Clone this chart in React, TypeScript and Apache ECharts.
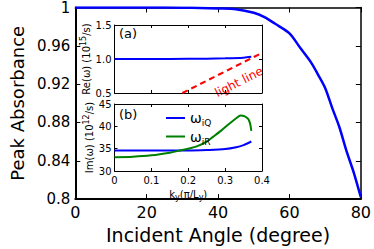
import React, { useEffect, useRef } from "react";
import * as echarts from "echarts";

// Main panel: peak absorbance vs incident angle
const angles = [0, 10, 20, 30, 35, 40, 45, 50, 53, 56, 60, 63, 66, 68, 70, 72, 74, 76, 78, 80];
const absorbance = [1.0, 1.0, 1.0, 0.9998, 0.9995, 0.999, 0.9982, 0.9945, 0.99, 0.983, 0.973, 0.958, 0.943, 0.93, 0.916, 0.895, 0.875, 0.85, 0.828, 0.802];

// Inset (a): real part of frequency vs ky
const kyA = [0, 0.1, 0.2, 0.25, 0.3, 0.35, 0.371];
const reOmega = [1.0, 1.0, 1.003, 1.005, 1.01, 1.02, 1.032];
const lightKy = [0.184, 0.4];
const lightRe = [0.5, 1.09];

// Inset (b): imaginary parts vs ky
const kyQ = [0, 0.1, 0.2, 0.25, 0.3, 0.33, 0.35, 0.371];
const imQ = [34.6, 34.6, 34.6, 34.7, 34.9, 35.3, 35.8, 36.6];
const kyR = [0, 0.05, 0.1, 0.15, 0.178, 0.2, 0.223, 0.25, 0.268, 0.29, 0.313, 0.33, 0.342, 0.352, 0.363, 0.368, 0.371];
const imR = [33.1, 33.2, 33.5, 34.1, 34.6, 35.0, 35.5, 36.6, 37.7, 39.1, 40.7, 41.8, 42.4, 42.3, 41.6, 40.5, 39.0];

const mainXTicks = [0, 20, 40, 60, 80];
const mainYTicks = [0.8, 0.84, 0.88, 0.92, 0.96, 1];

const FONT = "DejaVu Sans";

const zip = (xs: number[], ys: number[]) => xs.map((x, i) => [x, ys[i]]);

export default function App() {
  const ref = useRef<HTMLDivElement>(null);
  useEffect(() => {
    if (!ref.current) return;
    const chart = echarts.init(ref.current, undefined, { renderer: "svg" });
    const black = "#000";
    const frameAxis = (extra: any) => ({
      axisLine: { show: true, onZero: false, lineStyle: { color: black, width: extra.lw ?? 1 } },
      axisTick: { show: true, inside: true, length: extra.tl ?? 3, lineStyle: { color: black, width: 1 } },
      splitLine: { show: false },
    });
    const mainTickStyle = { fontFamily: FONT, color: black };

    chart.setOption({
      animation: false,
      backgroundColor: "#fff",
      textStyle: { fontFamily: FONT },
      grid: [
        { left: 67, top: 7, width: 298, height: 200, show: false },
        { left: 114.5, top: 25, width: 147.5, height: 68, show: true, backgroundColor: "#fff", borderWidth: 0 },
        { left: 114.5, top: 104, width: 147.5, height: 67, show: true, backgroundColor: "#fff", borderWidth: 0 },
      ],
      xAxis: [
        {
          type: "value", gridIndex: 0, position: "bottom", min: mainXTicks[0], max: mainXTicks[mainXTicks.length - 1], interval: 20,
          ...frameAxis({ lw: 2, tl: 5 }),
          axisLabel: { ...mainTickStyle, fontSize: 16, margin: 5 },
          name: "Incident Angle (degree)", nameLocation: "middle", nameGap: 21,
          nameTextStyle: { fontFamily: FONT, fontSize: 19, color: black },
        },
        {
          type: "value", gridIndex: 0, position: "top", min: 0, max: 80, interval: 20,
          ...frameAxis({ lw: 1.5, tl: 5 }), axisLabel: { show: false },
        },
        {
          type: "value", gridIndex: 1, position: "bottom", min: 0, max: 0.4, interval: 0.1,
          ...frameAxis({}), axisLabel: { show: false },
        },
        {
          type: "value", gridIndex: 1, position: "top", min: 0, max: 0.4, interval: 0.1,
          ...frameAxis({}), axisLabel: { show: false },
        },
        {
          type: "value", gridIndex: 2, position: "bottom", min: 0, max: 0.4, interval: 0.1,
          ...frameAxis({}),
          axisLabel: { fontFamily: FONT, fontSize: 10, color: black, margin: 4, formatter: (v: number) => (v === 0 ? "0" : v.toFixed(1)) },
          name: "k{s|y}(π/L{s|y})", nameLocation: "middle", nameGap: 16,
          nameTextStyle: {
            fontFamily: FONT, fontSize: 10, color: black,
            rich: { s: { fontFamily: FONT, fontSize: 8, color: black, padding: [6, 0, 0, 0] } },
          },
        },
        {
          type: "value", gridIndex: 2, position: "top", min: 0, max: 0.4, interval: 0.1,
          ...frameAxis({}), axisLabel: { show: false },
        },
      ],
      yAxis: [
        {
          type: "value", gridIndex: 0, position: "left", min: mainYTicks[0], max: mainYTicks[mainYTicks.length - 1], interval: 0.04,
          ...frameAxis({ lw: 2, tl: 5 }),
          axisLabel: { ...mainTickStyle, fontSize: 15, margin: 5, formatter: (v: number) => String(+v.toFixed(2)) },
          name: "Peak Absorbance", nameLocation: "middle", nameGap: 42,
          nameTextStyle: { fontFamily: FONT, fontSize: 18, color: black },
        },
        {
          type: "value", gridIndex: 0, position: "right", min: 0.8, max: 1, interval: 0.04,
          ...frameAxis({ lw: 1.5, tl: 5 }), axisLabel: { show: false },
        },
        {
          type: "value", gridIndex: 1, position: "left", min: 0.5, max: 1.5, interval: 0.5,
          ...frameAxis({}),
          axisLabel: { fontFamily: FONT, fontSize: 10, color: black, margin: 3, formatter: (v: number) => v.toFixed(1) },
          name: "Re(ω) (10{p|15}/s)", nameLocation: "middle", nameGap: 18,
          nameTextStyle: {
            fontFamily: FONT, fontSize: 10, color: black,
            rich: { p: { fontFamily: FONT, fontSize: 8, color: black, padding: [0, 0, 6, 0] } },
          },
        },
        {
          type: "value", gridIndex: 1, position: "right", min: 0.5, max: 1.5, interval: 0.5,
          ...frameAxis({}), axisLabel: { show: false },
        },
        {
          type: "value", gridIndex: 2, position: "left", min: 30, max: 45, interval: 5,
          ...frameAxis({}),
          axisLabel: { fontFamily: FONT, fontSize: 10, color: black, margin: 3 },
          name: "Im(ω) (10{p|12}/s)", nameLocation: "middle", nameGap: 16,
          nameTextStyle: {
            fontFamily: FONT, fontSize: 10, color: black,
            rich: { p: { fontFamily: FONT, fontSize: 8, color: black, padding: [0, 0, 6, 0] } },
          },
        },
        {
          type: "value", gridIndex: 2, position: "right", min: 30, max: 45, interval: 5,
          ...frameAxis({}), axisLabel: { show: false },
        },
      ],
      legend: {
        orient: "vertical", left: 161, top: 106, itemGap: 2, itemWidth: 19, itemHeight: 2,
        data: ["ωiQ", "ωiR"],
        icon: "rect",
        formatter: (name: string) => `{w|ω}{s|${name.slice(1)}}`,
        textStyle: {
          fontFamily: FONT, fontSize: 13, color: black,
          rich: {
            w: { fontFamily: FONT, fontSize: 14, color: black, lineHeight: 16 },
            s: { fontFamily: FONT, fontSize: 9, color: black, padding: [10, 0, 0, 0] },
          },
        },
      },
      graphic: [
        { type: "text", left: 119, top: 27, style: { text: "(a)", font: `13px '${FONT}'`, fill: black } },
        { type: "text", left: 119, top: 108, style: { text: "(b)", font: `13px '${FONT}'`, fill: black } },
        {
          type: "text", x: 239, y: 82, rotation: 0.47,
          style: { text: "light line", font: `12px '${FONT}'`, fill: "#ff0000", align: "center", verticalAlign: "middle" },
        },
      ],
      series: [
        {
          type: "line", xAxisIndex: 0, yAxisIndex: 0, data: zip(angles, absorbance), smooth: 0.3,
          showSymbol: false, lineStyle: { color: "#0000ff", width: 2.5 }, silent: true,
        },
        {
          type: "line", xAxisIndex: 2, yAxisIndex: 2, data: zip(kyA, reOmega), smooth: 0.3,
          showSymbol: false, lineStyle: { color: "#0000ff", width: 2 }, silent: true,
        },
        {
          type: "line", xAxisIndex: 2, yAxisIndex: 2, data: zip(lightKy, lightRe),
          showSymbol: false, lineStyle: { color: "#ff0000", width: 2, type: [6, 4] }, silent: true,
        },
        {
          name: "ωiQ", type: "line", xAxisIndex: 4, yAxisIndex: 4, data: zip(kyQ, imQ), smooth: 0.3,
          showSymbol: false, itemStyle: { color: "#0000ff" }, lineStyle: { color: "#0000ff", width: 2 }, silent: true,
        },
        {
          name: "ωiR", type: "line", xAxisIndex: 4, yAxisIndex: 4, data: zip(kyR, imR), smooth: 0.3,
          showSymbol: false, itemStyle: { color: "#008000" }, lineStyle: { color: "#008000", width: 2 }, silent: true,
        },
      ],
    });
    return () => chart.dispose();
  }, []);
  return <div ref={ref} style={{ width: 374, height: 249, position: "absolute", left: 0, top: 0 }} />;
}
